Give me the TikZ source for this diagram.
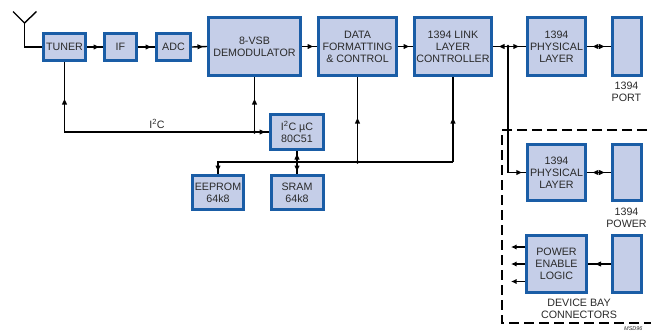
\documentclass[tikz,border=0pt]{standalone}
\usepackage{fontspec}
\setmainfont{Liberation Sans}
\usetikzlibrary{arrows.meta,decorations.markings}
\definecolor{bfill}{HTML}{C5CEE8}
\definecolor{bdraw}{HTML}{1A5DA6}
\definecolor{txt}{HTML}{2A2A2A}
\newcommand\myftri{\fill (0pt,0pt) -- (-5.5pt,2.6pt) -- (-5.5pt,-2.6pt) -- cycle;}
\newcommand\mybtri{\fill (0pt,0pt) -- (5.5pt,2.6pt) -- (5.5pt,-2.6pt) -- cycle;}
\begin{document}
\begin{tikzpicture}[x=1pt,y=-1pt,
  blk/.style={draw=bdraw,fill=bfill,line width=3pt,inner sep=0pt,align=center,
    font=\fontsize{10.7}{12}\selectfont,text=txt},
  lbl/.style={align=center,inner sep=0pt,font=\fontsize{10.7}{12}\selectfont,text=txt},
  ln/.style={line width=1.4pt},
  tipl/.style={-{Latex[length=5.5pt,width=5.2pt]}},
  fw/.style={postaction={decorate},decoration={markings,
    mark=at position #1 with {\myftri}}},
  bw/.style={postaction={decorate},decoration={markings,
    mark=at position #1 with {\mybtri}}},
  bfw/.style 2 args={postaction={decorate},decoration={markings,
    mark=at position #1 with {\mybtri},
    mark=at position #2 with {\myftri}}},
  dot/.style={circle,fill=black,inner sep=0pt,minimum size=3.6pt}
]
\useasboundingbox (0,0) rectangle (651,333);

% blocks
\node[blk,minimum width=42pt,minimum height=27pt] (tuner) at (64.5,47) {TUNER};
\node[blk,minimum width=32pt,minimum height=27pt] (if) at (120.5,47) {IF};
\node[blk,minimum width=34pt,minimum height=27pt] (adc) at (173.5,47) {ADC};
\node[blk,minimum width=92pt,minimum height=58pt] (demod) at (254.5,46.5) {8-VSB\\DEMODULATOR};
\node[blk,minimum width=78pt,minimum height=58pt] (data) at (357.5,46.5) {DATA\\FORMATTING\\\& CONTROL};
\node[blk,minimum width=77pt,minimum height=58pt] (link) at (453,46.5) {1394 LINK\\LAYER\\CONTROLLER};
\node[blk,minimum width=58.5pt,minimum height=58pt] (phy1) at (556.5,46.5) {1394\\PHYSICAL\\LAYER};
\node[blk,minimum width=29pt,minimum height=58pt] (port) at (626.5,46.5) {};
\node[blk,minimum width=53pt,minimum height=35pt] (uc) at (297,132) {I\textsuperscript{2}C µC\\80C51};
\node[blk,minimum width=51pt,minimum height=34pt] (eeprom) at (218,192.5) {EEPROM\\64k8};
\node[blk,minimum width=52pt,minimum height=34pt] (sram) at (297,192.5) {SRAM\\64k8};
\node[blk,minimum width=58.5pt,minimum height=56pt] (phy2) at (556.5,172.5) {1394\\PHYSICAL\\LAYER};
\node[blk,minimum width=29pt,minimum height=56pt] (power) at (626.5,172.5) {};
\node[blk,minimum width=60pt,minimum height=57pt] (pel) at (556.5,264) {POWER\\ENABLE\\LOGIC};
\node[blk,minimum width=29pt,minimum height=57pt] (conn) at (626.5,264) {};

% labels
\node[lbl] (lport) at (626.5,91.5) {1394\\PORT};
\node[lbl] (lpower) at (626.5,217.5) {1394\\POWER};
\node[lbl] (ldev) at (579,309) {DEVICE BAY\\CONNECTORS};
\node[lbl,anchor=base] (li2c) at (157,128) {I\textsuperscript{2}C};
\node[anchor=north west,inner sep=0pt,font=\fontsize{5.5}{5.5}\itshape\selectfont,text=txt] (msd) at (624,326) {MSD96};

% antenna
\coordinate (ant) at (24.5,23);
\coordinate (antl) at (13,11.5);
\coordinate (antr) at (36.5,11.5);
\draw[ln] (antl) -- (ant) -- (antr);
\draw[ln] (ant) |- (tuner.west);

% main chain
\draw[ln,fw=-4pt] (tuner.east) -- (if.west);
\draw[ln,fw=-4pt] (if.east) -- (adc.west);
\draw[ln,fw=-4pt] (adc.east) -- (demod.west);
\draw[ln,fw=-4pt] (demod.east) -- (data.west);
\draw[ln,fw=-4pt] (data.east) -- (link.west);

% 1394 links
\coordinate (J) at (508,46.5);
\draw[ln,bfw={6pt}{-7pt}] (link.east) -- (phy1.west);
\draw[ln,bfw={5.5pt}{-6pt}] (phy1.east) -- (port.west);
\draw[ln,fw=-4pt] (J) |- (phy2.west);
\node[dot] at (J) {};
\draw[ln,bfw={5.5pt}{-6pt}] (phy2.east) -- (power.west);

% power enable
\draw[ln,fw=15pt] (conn.west) -- (pel.west -| pel.east);
\coordinate (o1) at ([yshift=-17.5pt]pel.west);
\coordinate (o2) at (pel.west);
\coordinate (o3) at ([yshift=17pt]pel.west);
\draw[ln,tipl] (o1) -- ++(-14,0);
\draw[ln,tipl] (o2) -- ++(-14,0);
\draw[ln,tipl] (o3) -- ++(-14,0);

% I2C
\coordinate (D) at (demod.south |- uc.west);
\draw[ln,postaction={decorate},decoration={markings,
    mark=at position 37pt with {\mybtri},
    mark=at position -4pt with {\myftri}}]
  (tuner.south) |- (uc.west);
\draw[ln,bw=22pt] (demod.south) -- (D);
\node[dot] at (D) {};

% bus
\coordinate (busR) at (453,162);
\coordinate (dbus) at (data.south |- busR);
\draw[ln,bw=41pt] (link.south) -- (busR);
\draw[ln,bw=41pt] (data.south) -- (dbus);
\node[dot] at (dbus) {};
\draw[ln,fw=-3pt] (busR) -| (eeprom.north);
\draw[ln,bfw={3pt}{-3pt}] (uc.south) -- (sram.north);

% device bay
\draw[line width=1.9pt,dash pattern=on 10pt off 5pt] (662,130) -- (502,130) -- (502,323) -- (662,323);
\end{tikzpicture}
\end{document}
